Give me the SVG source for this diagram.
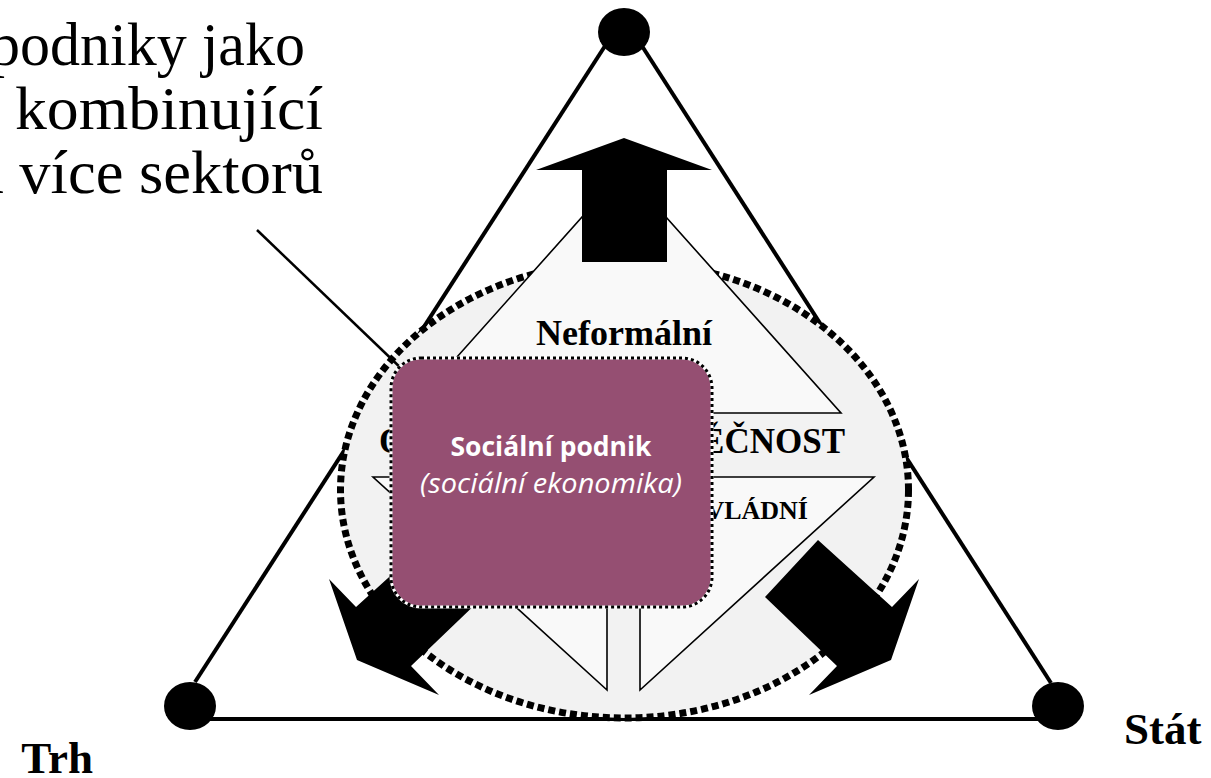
<svg xmlns="http://www.w3.org/2000/svg" width="1211" height="778" viewBox="0 0 1211 778">
  <style>
    .side { stroke: #000; stroke-width: 4; fill: none; }
    .vertex { fill: #000; }
    .inner { fill: #f9f9f9; stroke: #000; stroke-width: 1.6; }
    .block { fill: #000; }
    .serif { font-family: "Liberation Serif", "Times New Roman", serif; fill: #000; }
    .bold { font-weight: bold; }
    .boxtext { font-family: "Open Sans", "Liberation Sans", sans-serif; fill: #fff; text-anchor: middle; }
  </style>
  <rect width="1211" height="778" fill="#fff"/>

  <!-- connectors: triangle sides and pointer line -->
  <g id="connectors">
    <line class="side" x1="614" y1="32" x2="195" y2="682"/>
    <line class="side" x1="633" y1="32" x2="1051" y2="683"/>
    <line class="side" x1="190" y1="719" x2="1058" y2="719"/>
  </g>

  <g id="civil-society-ellipse">
    <ellipse cx="624.5" cy="490" rx="284" ry="228" fill="#f2f2f2"/>
  </g>

  <g id="arrow-trh">
    <polygon class="block" points="430,540 356,607 329,579 357,660 439,695 411,666 483,597"/>
  </g>
  <g id="arrow-stat">
    <polygon class="block" points="818,540 892,607 919,579 891,660 809,695 837,666 765,597"/>
  </g>

  <g id="civil-society-border">
    <ellipse cx="624.5" cy="490" rx="284" ry="228" fill="none" stroke="#000" stroke-width="7" stroke-dasharray="7 4"/>
  </g>

  <g id="neformalni">
    <polygon class="inner" points="624,170 841,413 407,413"/>
    <text class="serif bold" x="624" y="345" font-size="36" text-anchor="middle">Neformální</text>
  </g>
  <g id="obcanska-spolecnost">
    <text class="serif bold" x="379" y="453" font-size="35">O</text>
    <text class="serif bold" x="845" y="453" font-size="35" text-anchor="end">ĚČNOST</text>
  </g>
  <g id="nevladni">
    <polygon class="inner" points="373,477 607,477 607,690"/>
    <polygon class="inner" points="640,477 874,477 640,690"/>
    <text class="serif bold" x="808" y="519" font-size="26" text-anchor="end">VLÁDNÍ</text>
  </g>

  <g id="arrow-komunita">
    <polygon class="block" points="624,138 712,170 667,170 667,262 582,262 582,170 536,170"/>
  </g>

  <g id="pointer">
    <line x1="257" y1="230" x2="405" y2="372" stroke="#000" stroke-width="2.5"/>
  </g>

  <g id="hybrid-label">
    <text class="serif" x="-10" y="65" font-size="62" textLength="315" lengthAdjust="spacingAndGlyphs">podniky jako</text>
    <text class="serif" x="15" y="129" font-size="62" textLength="308" lengthAdjust="spacingAndGlyphs">kombinující</text>
    <text class="serif" x="-24" y="193" font-size="62" textLength="347" lengthAdjust="spacingAndGlyphs">a více sektorů</text>
  </g>

  <g id="socialni-podnik">
    <rect x="391" y="358" width="321" height="249" rx="30" fill="#954F72" stroke="#fff" stroke-width="3"/>
    <rect x="391" y="358" width="321" height="249" rx="30" fill="none" stroke="#000" stroke-width="3" stroke-dasharray="3 3"/>
    <text class="boxtext" x="551" y="456" font-size="26" font-weight="bold" textLength="201" lengthAdjust="spacingAndGlyphs">Sociální podnik</text>
    <text class="boxtext" x="551" y="493" font-size="27" font-style="italic" textLength="262" lengthAdjust="spacingAndGlyphs">(sociální ekonomika)</text>
  </g>

  <g id="komunita">
    <ellipse class="vertex" cx="624" cy="32" rx="26" ry="24"/>
  </g>
  <g id="trh">
    <ellipse class="vertex" cx="190" cy="706" rx="26" ry="24"/>
    <text class="serif bold" x="93" y="773" font-size="45" text-anchor="end">Trh</text>
  </g>
  <g id="stat">
    <ellipse class="vertex" cx="1058" cy="706" rx="26" ry="24"/>
    <text class="serif bold" x="1124" y="744" font-size="45">Stát</text>
  </g>
</svg>
